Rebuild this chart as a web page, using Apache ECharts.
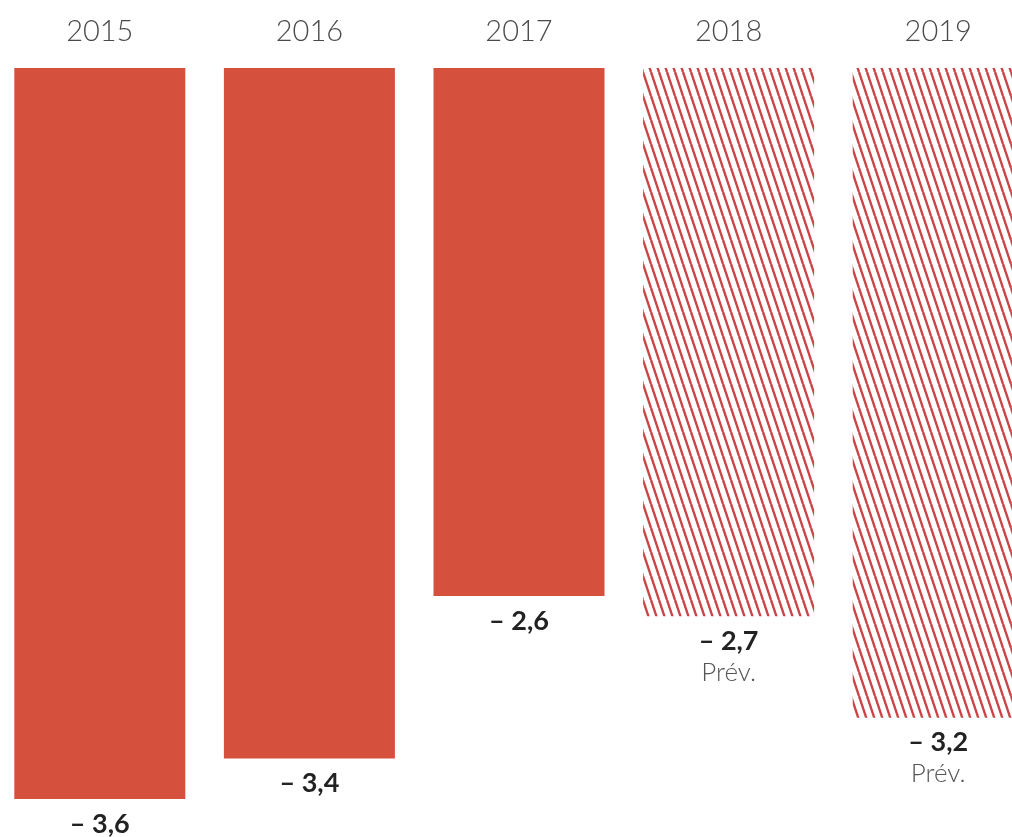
<!DOCTYPE html>
<html>
<head>
<meta charset="utf-8">
<script src="https://cdn.jsdelivr.net/npm/echarts@6/dist/echarts.min.js"></script>
<style>
  html, body { margin: 0; padding: 0; background: #ffffff; overflow: hidden; }
  #chart { width: 1048px; height: 837px; margin-left: -5px; }
</style>
</head>
<body>
<div id="chart"></div>
<script>
const years = ['2015', '2016', '2017', '2018', '2019'];
const values = [-3.6, -3.4, -2.6, -2.7, -3.2];
const forecast = [false, false, false, true, true];
const forecastNote = 'Prév.';

const solidColor = '#D6513D';
const stripeColor = '#CB4548';

function makeHatch() {
  const w = 8, h = 24;
  const c = document.createElement('canvas');
  c.width = w; c.height = h;
  const ctx = c.getContext('2d');
  ctx.fillStyle = '#ffffff';
  ctx.fillRect(0, 0, w, h);
  ctx.strokeStyle = stripeColor;
  ctx.lineWidth = 2.4;
  for (let k = -1; k <= 1; k++) {
    ctx.beginPath();
    ctx.moveTo(k * w, 0);
    ctx.lineTo(k * w + w, h);
    ctx.stroke();
  }
  return c;
}
const hatch = makeHatch();

function fmt(v) {
  return '– ' + Math.abs(v).toFixed(1).replace('.', ',');
}

const chart = echarts.init(document.getElementById('chart'), null, { renderer: 'canvas' });
chart.setOption({
  animation: false,
  backgroundColor: '#ffffff',
  grid: { left: 0, right: 0, top: 68, bottom: 38, containLabel: false },
  xAxis: {
    type: 'category',
    position: 'top',
    data: years,
    axisLine: { show: false },
    axisTick: { show: false },
    axisLabel: {
      margin: 22,
      fontSize: 29,
      fontFamily: 'Lato',
      fontWeight: 300,
      color: '#4a4a4a'
    }
  },
  yAxis: {
    type: 'value',
    min: -3.6,
    max: 0,
    show: false,
    splitLine: { show: false }
  },
  series: [{
    type: 'bar',
    barWidth: 171,
    data: values.map((v, i) => ({
      value: v,
      itemStyle: forecast[i]
        ? { color: { image: hatch, repeat: 'repeat' } }
        : { color: solidColor }
    })),
    label: {
      show: true,
      position: 'bottom',
      distance: 9,
      formatter: (p) => forecast[p.dataIndex]
        ? '{v|' + fmt(p.value) + '}\n{p|' + forecastNote + '}'
        : '{v|' + fmt(p.value) + '}',
      rich: {
        v: { fontSize: 27, fontWeight: 'bold', fontFamily: 'Lato', color: '#222222', lineHeight: 32 },
        p: { fontSize: 26, fontWeight: 300, fontFamily: 'Lato', color: '#555555', lineHeight: 30 }
      }
    }
  }]
});
</script>
</body>
</html>
